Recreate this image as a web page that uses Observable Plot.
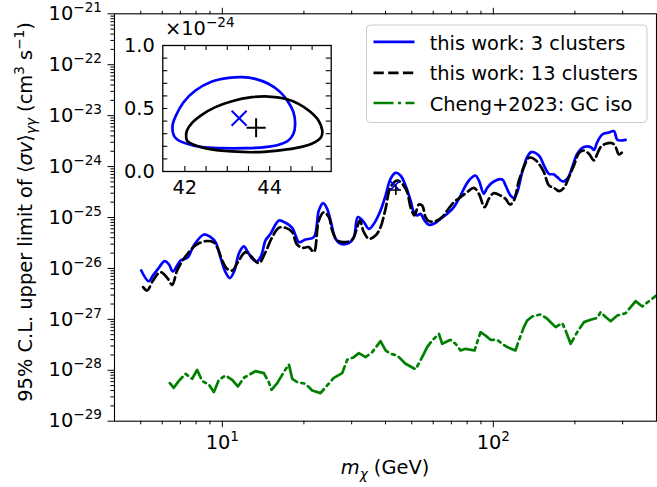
<!DOCTYPE html>
<html><head><meta charset="utf-8">
<script src="https://cdn.jsdelivr.net/npm/d3@7"></script>
<script src="https://cdn.jsdelivr.net/npm/@observablehq/plot@0.6"></script>
<style>
body{margin:0;background:#fff;}
#wrap{position:relative;width:657px;height:487px;font-family:"DejaVu Sans";}
#wrap svg text{white-space:pre;}
#inset{position:absolute;left:100px;top:15px;}
</style></head><body><div id="wrap"></div>
<script>
// ---------- data ----------
const blueMass = [5.02,5.35,5.55,5.83,6.13,6.35,6.57,6.81,7.01,7.46,7.85,8.55,9.05,9.44,9.84,10.27,10.66,11.09,11.50,12.00,12.42,12.89,13.38,13.92,14.43,15.06,16.17,17.11,18.11,18.63,19.16,20.27,21.76,22.70,23.55,24.37,25.08,26.16,27.29,29.30,30.57,31.63,33.27,34.73,36.24,38.35,40.02,41.75,43.56,45.45,47.42,49.49,50.90,52.36,53.87,55.73,57.82,60.32,63.85,67.57,71.50,74.62,77.86,81.24,85.95,88.42,92.26,94.92,100.4,107.9,110.9,115.7,119.1,122.5,127.8,133.3,138.0,147.3,153.7,160.4,167.4,172.1,181.1,188.5,195.5,204.0,215.9,228.6,235.1,241.8,252.3,267.0,278.6,286.6,294.9,307.7];
const blueLimit = [9.1e-27,5.6e-27,7.3e-27,1.03e-26,1.39e-26,1.20e-26,8.7e-27,1.14e-26,1.43e-26,1.66e-26,2.83e-26,4.64e-26,4.11e-26,3.28e-26,1.66e-26,8.45e-27,6.45e-27,9.1e-27,1.94e-26,2.70e-26,2.09e-26,1.55e-26,1.37e-26,1.79e-26,3.54e-26,4.79e-26,8.75e-26,7.87e-26,6.28e-26,4.44e-26,3.28e-26,3.70e-26,4.11e-26,1.37e-25,1.91e-25,1.48e-25,8.75e-26,3.82e-26,3.04e-26,3.14e-26,4.11e-26,1.02e-25,8.11e-26,6.0e-26,7.52e-26,1.37e-25,2.70e-25,5.75e-25,7.54e-25,6.68e-25,4.26e-25,2.16e-25,1.27e-25,1.10e-25,1.18e-25,8.75e-26,7.18e-26,7.52e-26,9.42e-26,1.18e-25,1.60e-25,2.33e-25,3.66e-25,5.33e-25,6.68e-25,5.33e-25,2.92e-25,3.83e-25,5.09e-25,5.58e-25,4.26e-25,2.70e-25,2.44e-25,3.15e-25,7.76e-25,1.53e-24,1.92e-24,1.65e-24,1.05e-24,7.21e-25,7.0e-25,6.19e-25,5.09e-25,6.0e-25,9.74e-25,1.78e-24,2.41e-24,2.41e-24,2.13e-24,3.02e-24,4.27e-24,4.67e-24,4.96e-24,3.35e-24,3.25e-24,3.35e-24];

const blackMass = [5.10,5.28,5.55,5.91,6.26,6.53,6.81,7.21,7.96,8.67,9.25,9.63,9.99,10.42,10.87,11.50,12.17,12.70,13.63,14.43,15.27,16.17,17.11,18.11,18.78,19.71,20.85,21.76,22.70,23.69,24.72,25.43,26.54,28.08,30.14,31.45,32.18,33.27,34.73,36.75,38.35,40.02,41.75,44.17,46.10,48.09,49.49,51.19,53.11,54.63,56.21,57.82,61.21,64.76,67.57,71.50,75.67,80.03,84.74,88.42,92.80,96.27,100.4,106.3,110.9,115.1,119.1,124.3,129.6,135.3,141.2,147.3,153.7,160.4,167.4,174.6,182.1,190.0,198.3,206.9,215.9,225.2,235.1,241.8,248.8,259.7,274.8,282.7,290.7,299.1];
const blackLimit = [4.29e-27,3.69e-27,5.8e-27,8.45e-27,6.54e-27,4.77e-27,9.1e-27,1.55e-26,2.83e-26,3.43e-26,3.28e-26,2.43e-26,1.43e-26,9.8e-27,9.1e-27,1.43e-26,2.09e-26,1.79e-26,1.27e-26,2.09e-26,4.11e-26,6.28e-26,6.28e-26,5.15e-26,3.04e-26,2.54e-26,2.62e-26,2.09e-26,8.75e-26,1.27e-25,1.02e-25,5.56e-26,3.54e-26,3.28e-26,3.65e-26,6.46e-26,8.75e-26,5.15e-26,3.82e-26,4.44e-26,6.46e-26,1.48e-25,3.94e-25,5.33e-25,4.59e-25,3.15e-25,1.60e-25,1.10e-25,1.80e-25,1.72e-25,1.02e-25,8.48e-26,8.48e-26,1.02e-25,1.37e-25,2.0e-25,2.51e-25,3.15e-25,3.83e-25,2.92e-25,1.60e-25,2.33e-25,3.01e-25,2.70e-25,2.33e-25,1.80e-25,2.16e-25,5.33e-25,9.74e-25,1.49e-24,1.42e-24,1.13e-24,7.76e-25,4.26e-25,3.83e-25,3.29e-25,3.83e-25,6.19e-25,1.05e-24,1.83e-24,2.07e-24,1.78e-24,1.32e-24,1.78e-24,2.41e-24,2.80e-24,2.88e-24,2.41e-24,1.73e-24,1.92e-24];

const greenMass = [6.40,6.62,6.90,7.31,7.74,8.07,8.43,8.92,9.30,9.71,10.27,10.87,11.41,12.00,13.25,14.23,14.84,15.19,15.94,16.86,17.60,18.11,18.89,20.27,21.46,23.03,24.37,25.78,27.69,28.89,30.57,31.90,33.76,35.73,38.35,40.02,41.75,44.17,47.42,51.61,53.87,56.99,59.46,62.96,64.76,69.49,72.52,75.67,78.95,85.22,89.70,93.51,97.63,103.3,107.8,112.5,120.7,124.2,129.6,133.3,139.1,149.4,158.0,169.7,179.6,184.8,192.8,204.0,215.9,228.6,241.8,248.8,259.7,271.0,286.6,307.7,321.1,335.0,354.6,375.3,400];
const greenLimit = [5.6e-29,4.53e-29,6.12e-29,8.53e-29,6.81e-29,1.02e-28,6.12e-29,5.26e-29,3.72e-29,6.5e-29,7.9e-29,6.5e-29,4.81e-29,7.1e-29,9.6e-29,8.8e-29,5.85e-29,4.14e-29,5.6e-29,9.2e-29,1.30e-28,6.81e-29,5.85e-29,5.43e-29,4.02e-29,3.56e-29,5.03e-29,7.1e-29,8.8e-29,1.61e-28,1.81e-28,2.17e-28,1.81e-28,2.27e-28,3.73e-28,2.45e-28,2.11e-28,1.96e-28,1.34e-28,1.05e-28,1.56e-28,2.85e-28,3.85e-28,5.2e-28,3.31e-28,3.96e-28,3.31e-28,2.45e-28,2.64e-28,2.45e-28,5.61e-28,4.82e-28,3.96e-28,3.96e-28,3.31e-28,2.85e-28,2.45e-28,3.85e-28,7.03e-28,9.5e-28,1.14e-27,1.25e-27,1.03e-27,7.03e-28,8.43e-28,6.05e-28,3.31e-28,5.61e-28,8.82e-28,9.8e-28,1.07e-27,1.39e-27,1.11e-27,9.2e-28,1.19e-27,1.32e-27,1.74e-27,2.28e-27,1.79e-27,2.28e-27,2.95e-27];

// inset: 1-sigma contours (sigma in units of 1e-24)
const blueContourMass = [41.74,41.71,41.79,41.97,42.25,42.64,43.03,43.35,43.66,43.97,44.25,44.44,44.56,44.60,44.56,44.44,44.21,43.89,43.42,42.88,42.40,42.05,41.82];
const blueContourSigma = [0.286,0.365,0.444,0.550,0.643,0.714,0.743,0.749,0.735,0.696,0.630,0.550,0.471,0.378,0.299,0.246,0.212,0.193,0.185,0.185,0.193,0.220,0.254];
const blackContourMass = [42.03,42.05,42.17,42.40,42.72,43.11,43.58,43.97,44.37,44.68,44.95,45.15,45.24,45.21,44.99,44.60,44.13,43.66,43.11,42.56,42.21,42.05];
const blackContourSigma = [0.286,0.325,0.386,0.450,0.511,0.558,0.590,0.595,0.577,0.537,0.476,0.405,0.325,0.272,0.220,0.185,0.164,0.153,0.159,0.180,0.212,0.246];
const bestFitMass = [43.28, 43.68];          // blue (3 clusters), black (13 clusters)
const bestFitSigma = [0.423, 0.347];         // units of 1e-24

// ticks / labels
const yTickExponents = [-29,-28,-27,-26,-25,-24,-23,-22,-21];
const xTickExponents = [1, 2];
const xMinorTicks = [5,6,7,8,9,20,30,40,50,60,70,80,90,200,300];
const insetXTicks = [42,42.5,43,43.5,44,44.5,45];
const insetXLabels = [42, 44];
const insetYTicks = [0.1,0.2,0.3,0.4,0.5,0.6,0.7,0.8,0.9];
const insetYLabels = [0, 0.5, 1];
const legendLabels = ["this work: 3 clusters", "this work: 13 clusters", "Cheng+2023: GC iso"];
const legendColors = ["blue", "black", "green"];

// ---------- build ----------
const FS = 19.4, SUP = 13.6;
const DASH = "10.3,4.4", DASHDOT = "20,4.5,3,4.5", LW = 2.7;
const blue = blueMass.map((m,i)=>({m, v: blueLimit[i]}));
const black = blackMass.map((m,i)=>({m, v: blackLimit[i]}));
const green = greenMass.map((m,i)=>({m, v: greenLimit[i]}));
const blueC = blueContourMass.map((m,i)=>({m, s: blueContourSigma[i]}));
const blackC = blackContourMass.map((m,i)=>({m, s: blackContourSigma[i]}));
const fitBlue = [{m: bestFitMass[0], s: bestFitSigma[0]}];
const fitBlack = [{m: bestFitMass[1], s: bestFitSigma[1]}];
const majorY = yTickExponents.map(e => +("1e" + e));
const minorY = [];
for (let e = -29; e < -21; e++) for (let k = 2; k <= 9; k++) minorY.push(+(k + "e" + e));
const majorX = xTickExponents.map(e => Math.pow(10, e));
const powFmt = d => "10^" + String(Math.round(Math.log10(d))).replace("-", "\u2212");
const blank = () => "";

const main = Plot.plot({
  width: 657, height: 487,
  marginLeft: 114, marginRight: 1, marginTop: 13.3, marginBottom: 66.3,
  style: {fontFamily: "DejaVu Sans", fontSize: FS + "px", background: "white", overflow: "visible", color: "black"},
  x: {type: "log", domain: [4, 400]},
  y: {type: "log", domain: [1e-29, 1e-21]},
  marks: [
    Plot.line(blue, {x: "m", y: "v", stroke: "blue", strokeWidth: LW, curve: "catmull-rom"}),
    Plot.line(black, {x: "m", y: "v", stroke: "black", strokeWidth: LW, strokeDasharray: DASH, curve: "catmull-rom"}),
    Plot.line(green, {x: "m", y: "v", stroke: "green", strokeWidth: LW, strokeDasharray: DASHDOT, clip: true}),
    Plot.dot(fitBlue, {x: "m", y: d => d.s * 1e-24, symbol: "times", r: 4.2, stroke: "blue", strokeWidth: 1.6}),
    Plot.dot(fitBlack, {x: "m", y: d => d.s * 1e-24, symbol: "plus", r: 3.4, stroke: "black", strokeWidth: 1.6}),
    Plot.axisX({anchor: "bottom", ticks: majorX, tickSize: 6.5, tickPadding: 8, tickFormat: powFmt, label: null}),
    Plot.axisX({anchor: "bottom", ticks: xMinorTicks, tickSize: 3.6, tickFormat: blank, label: null}),
    Plot.axisX({anchor: "top", ticks: majorX, tickSize: 6.5, tickFormat: blank, label: null}),
    Plot.axisX({anchor: "top", ticks: xMinorTicks, tickSize: 3.6, tickFormat: blank, label: null}),
    Plot.axisY({anchor: "left", ticks: majorY, tickSize: 6.5, tickPadding: 6, tickFormat: powFmt, label: null}),
    Plot.axisY({anchor: "left", ticks: minorY, tickSize: 3.6, tickFormat: blank, label: null}),
    Plot.frame({stroke: "black", strokeWidth: 1.1})
  ]
});

// superscript tick labels
d3.select(main).selectAll("text").each(function() {
  const s = this.textContent;
  if (!s.includes("^")) return;
  const [base, exp] = s.split("^");
  const t = d3.select(this);
  t.text(null);
  t.append("tspan").text(base);
  t.append("tspan").attr("dy", -8).attr("font-size", SUP).text(exp);
});

function richText(parent, segs, x, y, attrs = {}) {
  const t = parent.append("text").attr("x", x).attr("y", y).attr("font-size", FS)
    .attr("fill", "black").attr("text-anchor", "start");
  for (const k in attrs) t.attr(k, attrs[k]);
  let cur = 0;
  for (const s of segs) {
    const target = s.sup ? -8 : s.sub ? 4.5 : 0;
    const ts = t.append("tspan").attr("dy", target - cur).text(s.t);
    if (s.sup || s.sub) ts.attr("font-size", SUP);
    if (s.it) ts.attr("font-style", "italic");
    cur = target;
  }
  return t;
}
const msvg = d3.select(main);
// y label
richText(msvg, [
  {t: "95% C.L. upper limit of \u27E8"}, {t: "\u03C3v", it: true}, {t: "\u27E9"},
  {t: "\u03B3\u03B3", sub: true, it: true}, {t: " (cm"}, {t: "3", sup: true},
  {t: " s"}, {t: "\u22121", sup: true}, {t: ")"}
], 0, 0, {"text-anchor": "middle", transform: "translate(31.5,212) rotate(-90)"});
// x label
richText(msvg, [{t: "m", it: true}, {t: "\u03C7", sub: true, it: true}, {t: " (GeV)"}], 385, 474, {"text-anchor": "middle"});

// legend
const lg = msvg.append("g").attr("text-anchor", "start");
lg.append("rect").attr("x", 366.5).attr("y", 25).attr("width", 280.5).attr("height", 97.5).attr("rx", 4).attr("ry", 4)
  .style("fill", "rgba(255,255,255,0.8)").style("stroke", "#cccccc").style("stroke-width", "1px");
const dashes = [null, DASH, DASHDOT];
const rowY = [41.9, 72.8, 103];
legendLabels.forEach((lab, i) => {
  lg.append("line").attr("x1", 373.5).attr("x2", 414.5).attr("y1", rowY[i]).attr("y2", rowY[i])
    .attr("stroke", legendColors[i]).attr("stroke-width", LW).attr("stroke-dasharray", dashes[i]);
  lg.append("text").attr("x", 429.7).attr("y", rowY[i] + 7.6).attr("font-size", FS)
    .attr("text-anchor", "start").attr("fill", "black").text(lab);
});

// ---------- inset ----------
const inset = Plot.plot({
  width: 240, height: 190,
  marginLeft: 62.3, marginRight: 9.3, marginTop: 30, marginBottom: 34,
  style: {fontFamily: "DejaVu Sans", fontSize: FS + "px", background: "transparent", overflow: "visible", color: "black"},
  x: {domain: [41.48, 45.45]},
  y: {domain: [0, 1]},
  marks: [
    Plot.frame({fill: "white"}),
    Plot.line(blueC, {x: "m", y: "s", stroke: "blue", strokeWidth: LW, curve: "catmull-rom-closed"}),
    Plot.line(blackC, {x: "m", y: "s", stroke: "black", strokeWidth: LW, curve: "catmull-rom-closed"}),
    Plot.dot(fitBlue, {x: "m", y: "s", symbol: "times", r: 6.9, stroke: "blue", strokeWidth: 2}),
    Plot.dot(fitBlack, {x: "m", y: "s", symbol: "plus", r: 6.2, stroke: "black", strokeWidth: 2}),
    Plot.tickX(insetXTicks, {x: d => d, insetTop: 121, stroke: "black", strokeWidth: 1.1}),
    Plot.tickX(insetXTicks, {x: d => d, insetBottom: 121, stroke: "black", strokeWidth: 1.1}),
    Plot.tickY(insetYTicks, {y: d => d, insetRight: 163.4, stroke: "black", strokeWidth: 1.1}),
    Plot.tickY(insetYTicks, {y: d => d, insetLeft: 163.4, stroke: "black", strokeWidth: 1.1}),
    Plot.axisX({anchor: "bottom", ticks: insetXLabels, tickSize: 0, tickPadding: 9, tickFormat: d => String(d), label: null}),
    Plot.axisY({anchor: "left", ticks: insetYLabels, tickSize: 0, tickPadding: 8, tickFormat: d => d.toFixed(1), label: null}),
    Plot.frame({stroke: "black", strokeWidth: 1.3})
  ]
});
inset.id = "inset";
richText(d3.select(inset), [{t: "\u00D710"}, {t: "\u221224", sup: true}], 65, 20);

const wrap = document.getElementById("wrap");
wrap.appendChild(main);
wrap.appendChild(inset);
</script></body></html>
